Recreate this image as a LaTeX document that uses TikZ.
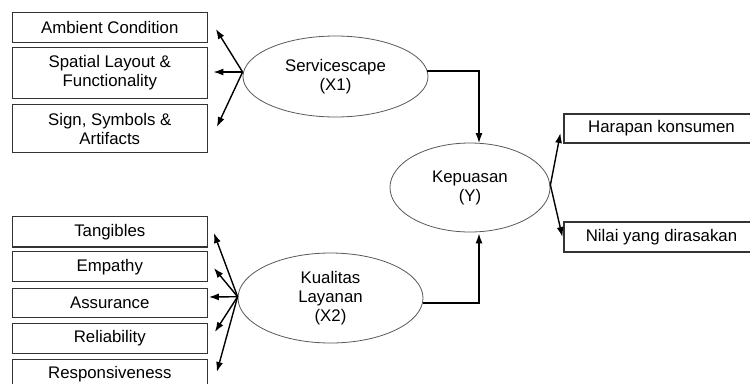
\documentclass[tikz,border=0pt]{standalone}
\usepackage{fontspec}
\setmainfont{Liberation Sans}
\usetikzlibrary{shapes.geometric,arrows.meta,calc}
\begin{document}
\begin{tikzpicture}[x=1bp,y=-1bp,
  every node/.style={font=\fontsize{16.8bp}{19bp}\selectfont, text=black},
  box/.style={draw=black!80, line width=1.1bp, minimum width=195bp, inner sep=0pt, align=center, rectangle},
  oval/.style={draw=black!65, line width=0.8bp, ellipse, inner sep=0pt, align=center},
  arr/.style={draw=black, line width=1.4bp, -{Latex[length=10bp,width=7bp]}}
]
\useasboundingbox (0,0) rectangle (750,383);
\clip (0,0) rectangle (750,383);
\fill[white] (0,0) rectangle (750,383);
% left boxes top
\node[box, minimum height=29.6bp] (amb) at (109.8,27.5) {Ambient Condition};
\node[box, minimum height=51bp] (spa) at (109.8,72.8) {Spatial Layout \&\\Functionality};
\node[box, minimum height=48.4bp] (sig) at (109.8,128.5) {Sign, Symbols \&\\Artifacts};
% left boxes bottom
\node[box, minimum height=30.3bp] (tan) at (109.8,231.8) {Tangibles};
\node[box, minimum height=30bp] (emp) at (109.8,266.7) {Empathy};
\node[box, minimum height=29bp] (ass) at (109.8,302.8) {Assurance};
\node[box, minimum height=30.4bp] (rel) at (109.8,338.5) {Reliability};
\node[box, minimum height=30bp] (res) at (109.8,374.3) {Responsiveness};
% right boxes
\node[box, minimum height=29bp] (har) at (661.5,128.5) {Harapan konsumen};
\node[box, minimum height=30bp] (nil) at (661.5,237) {Nilai yang dirasakan};
% ellipses
\node[oval, minimum width=185bp, minimum height=81bp] (sv) at (335.5,76.5) {Servicescape\\(X1)};
\node[oval, minimum width=185bp, minimum height=90bp] (kl) at (330.5,298) {Kualitas\\Layanan\\(X2)};
\node[oval, minimum width=160bp, minimum height=89bp] (kp) at (470,187.5) {Kepuasan\\(Y)};
% fan sources
\coordinate (svs) at ($(sv.west)+(0,-4.5)$);
\coordinate (kls) at ($(kl.west)+(0,-1.3)$);
\coordinate (kps) at ($(kp.east)+(0,-2.5)$);
% servicescape fan
\draw[arr] (svs) -- ($(amb.east)+(8,1.5)$);
\draw[arr] (svs) -- ($(spa.east)+(5.5,-0.8)$);
\draw[arr] (svs) -- ($(sig.east)+(9,-1.5)$);
% kualitas fan
\draw[arr] (kls) -- ($(tan.east)+(6,1.2)$);
\draw[arr] (kls) -- ($(emp.east)+(6,1.3)$);
\draw[arr] (kls) -- ($(ass.east)+(1,-5.8)$);
\draw[arr] (kls) -- ($(rel.east)+(7,-6.5)$);
\draw[arr] (kls) -- ($(res.east)+(9,-2.3)$);
% kepuasan fan
\draw[arr] (kps) -- ($(har.west)+(-3,4.5)$);
\draw[arr] (kps) -- ($(nil.west)+(-1,0)$);
% main connectors
\draw[arr] ($(sv.east)+(-1,-5.5)$) -| ($(kp.north)+(9,0.5)$);
\draw[arr] ($(kl.east)+(0,5)$) -| ($(kp.south)+(9,1)$);
\end{tikzpicture}
\end{document}
